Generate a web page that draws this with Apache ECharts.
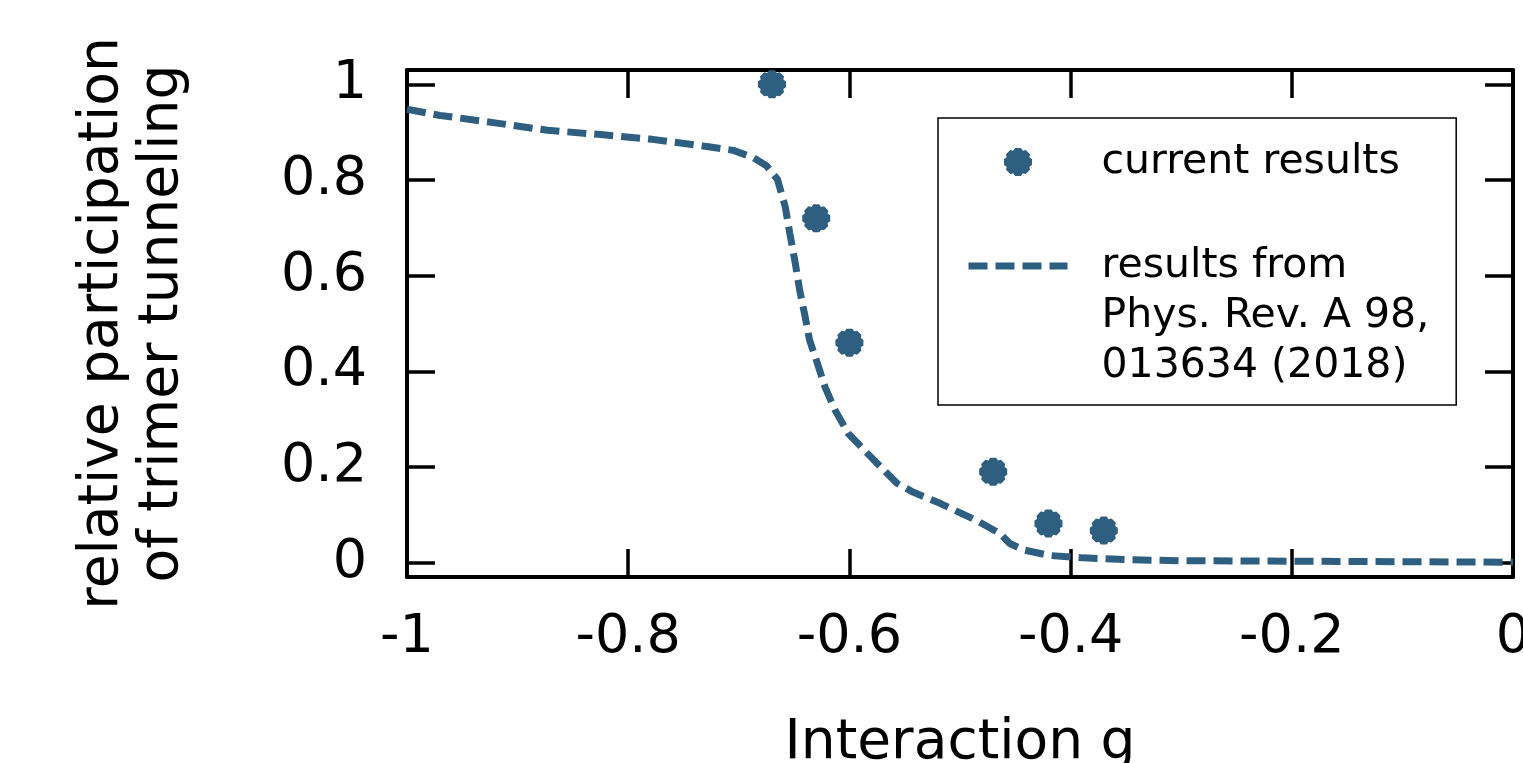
<!DOCTYPE html>
<html>
<head>
<meta charset="utf-8">
<script src="https://cdn.jsdelivr.net/npm/echarts@6.0.0/dist/echarts.min.js"></script>
<style>
  html, body { margin: 0; padding: 0; background: #fff; }
  #chart { width: 1523px; height: 763px; }
</style>
</head>
<body>
<div id="chart"></div>
<script>
// 当前结果（散点）
const gCurrent = [-0.67, -0.63, -0.60, -0.47, -0.42, -0.37];
const pCurrent = [1.0, 0.72, 0.46, 0.19, 0.082, 0.067];

// Phys. Rev. A 98, 013634 (2018) 结果（虚线）
const gPrev = [-1, -0.970, -0.922, -0.873, -0.825, -0.778, -0.729, -0.705, -0.687, -0.675,
  -0.665, -0.658, -0.654, -0.649, -0.645, -0.640, -0.636, -0.629, -0.622, -0.613,
  -0.601, -0.584, -0.566, -0.557, -0.542, -0.518, -0.485, -0.464, -0.455, -0.443,
  -0.419, -0.389, -0.344, -0.298, -0.2, -0.1, 0];
const pPrev = [0.948, 0.935, 0.920, 0.904, 0.895, 0.885, 0.870, 0.862, 0.847, 0.830,
  0.801, 0.744, 0.690, 0.627, 0.570, 0.514, 0.465, 0.417, 0.367, 0.319,
  0.270, 0.229, 0.187, 0.166, 0.147, 0.124, 0.088, 0.061, 0.040, 0.027,
  0.015, 0.010, 0.006, 0.004, 0.003, 0.002, 0.001];

// 刻度
const xTicks = [-1, -0.8, -0.6, -0.4, -0.2, 0];
const yTicks = [0, 0.2, 0.4, 0.6, 0.8, 1];

const seriesNames = ["current results", "results from Phys. Rev. A 98, 013634 (2018)"];

const mainColor = "#2f5f80";
const font = "DejaVu Sans";

// 圆形加十字的点形
function markerPath() {
  let pts = [];
  for (let i = 0; i < 8; i++) {
    const c = (i * 45 * Math.PI) / 180;
    const d = (12 * Math.PI) / 180;
    const m = c + (22.5 * Math.PI) / 180;
    pts.push([Math.cos(c - d), Math.sin(c - d)]);
    pts.push([Math.cos(c + d), Math.sin(c + d)]);
    pts.push([0.86 * Math.cos(m), 0.86 * Math.sin(m)]);
  }
  return "path://M" + pts.map((p) => (50 + 50 * p[0]).toFixed(2) + "," + (50 + 50 * p[1]).toFixed(2)).join("L") + "Z";
}
const marker = markerPath();

let myChart = echarts.init(document.getElementById("chart"));

const axisLineStyle = { color: "#000", width: 4 };
const tickStyle = { inside: true, length: 28, lineStyle: { color: "#000", width: 3.5 } };

let option = {
  backgroundColor: "#fff",
  animation: false,
  grid: { left: 407, right: 10, top: 70, bottom: 186, containLabel: false, outerBoundsMode: "none" },
  legend: {
    orient: "vertical",
    left: 938,
    top: 118,
    padding: [19, 27, 14, 27],
    borderColor: "#000",
    borderWidth: 1.5,
    itemWidth: 99,
    itemHeight: 28,
    itemGap: -46,
    lineStyle: { width: 7 },
    textStyle: { fontFamily: font, fontSize: 41, color: "#000", lineHeight: 50, padding: [0, 0, 0, 29] },
    // 多行文字：前面补两行空白，让第一行与图标对齐
    formatter: (name) => (name === seriesNames[1] ? "\n\nresults from\nPhys. Rev. A 98,\n013634 (2018)" : name),
    data: [
      { name: seriesNames[0] },
      { name: seriesNames[1], itemStyle: { color: "rgba(0,0,0,0)", borderWidth: 0, opacity: 0 } },
    ],
  },
  xAxis: [
    {
      type: "value",
      min: -1,
      max: 0,
      position: "bottom",
      axisLine: { show: true, onZero: false, lineStyle: axisLineStyle },
      axisTick: Object.assign({ customValues: xTicks }, tickStyle),
      axisLabel: { customValues: xTicks, fontFamily: font, fontSize: 54, color: "#000", margin: 34 },
      splitLine: { show: false },
      name: "Interaction g",
      nameLocation: "middle",
      nameGap: 139,
      nameTextStyle: { fontFamily: font, fontSize: 55, color: "#000" },
    },
    {
      type: "value",
      min: -1,
      max: 0,
      position: "top",
      axisLine: { show: true, onZero: false, lineStyle: axisLineStyle },
      axisTick: Object.assign({ customValues: xTicks }, tickStyle),
      axisLabel: { show: false },
      splitLine: { show: false },
    },
  ],
  yAxis: [
    {
      type: "value",
      min: -0.03,
      max: 1.03,
      position: "left",
      axisLine: { show: true, onZero: false, lineStyle: axisLineStyle },
      axisTick: Object.assign({ customValues: yTicks }, tickStyle),
      axisLabel: { customValues: yTicks, fontFamily: font, fontSize: 54, color: "#000", margin: 40 },
      splitLine: { show: false },
      name: "relative participation\nof trimer tunneling",
      nameLocation: "middle",
      nameRotate: 90,
      nameGap: 214,
      nameTextStyle: { fontFamily: font, fontSize: 55, color: "#000", lineHeight: 60 },
    },
    {
      type: "value",
      min: -0.03,
      max: 1.03,
      position: "right",
      axisLine: { show: true, onZero: false, lineStyle: axisLineStyle },
      axisTick: Object.assign({ customValues: yTicks }, tickStyle),
      axisLabel: { show: false },
      splitLine: { show: false },
    },
  ],
  series: [
    {
      name: seriesNames[1],
      type: "line",
      xAxisIndex: 0,
      yAxisIndex: 0,
      symbol: "none",
      smooth: false,
      lineStyle: { color: mainColor, width: 7, type: [19, 8] },
      itemStyle: { color: mainColor },
      data: gPrev.map((g, i) => [g, pPrev[i]]),
      z: 2,
    },
    {
      name: seriesNames[0],
      type: "scatter",
      xAxisIndex: 0,
      yAxisIndex: 0,
      symbol: marker,
      symbolSize: 28,
      itemStyle: { color: mainColor, opacity: 1 },
      data: gCurrent.map((g, i) => [g, pCurrent[i]]),
      z: 3,
    },
  ],
};

option && myChart.setOption(option);
</script>
</body>
</html>
